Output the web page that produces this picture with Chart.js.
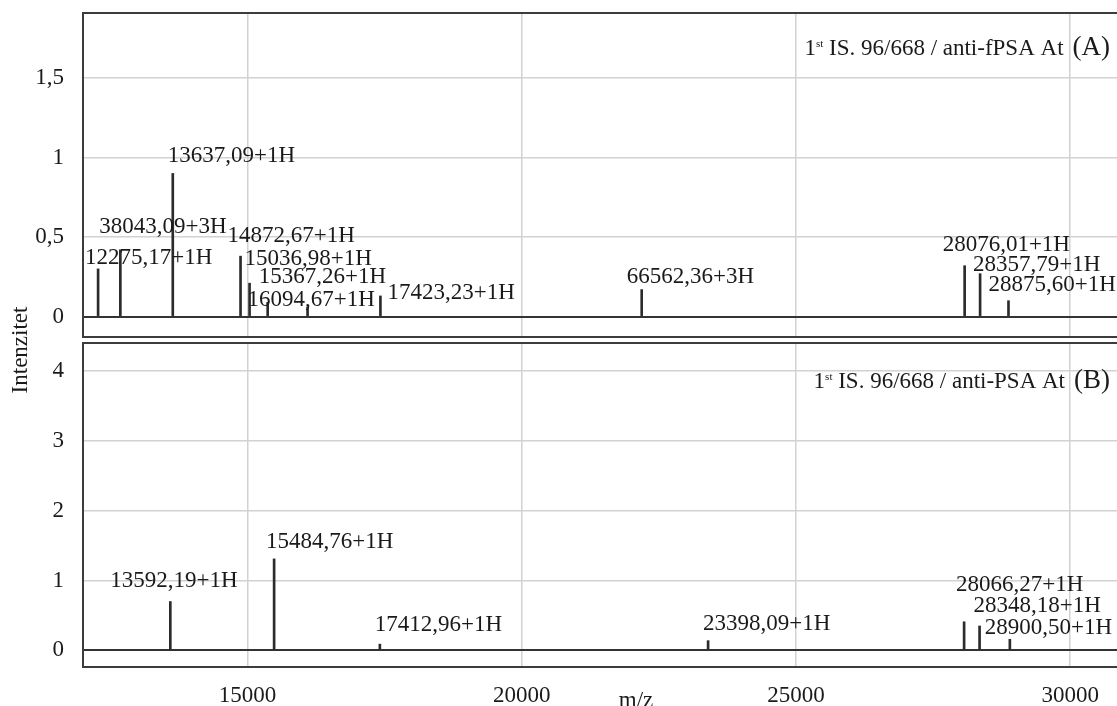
<!DOCTYPE html>
<html>
<head>
<meta charset="utf-8">
<script src="https://cdn.jsdelivr.net/npm/chart.js@4.4.0/dist/chart.umd.min.js"></script>
<style>
  html, body { margin: 0; padding: 0; background: #fff; overflow: hidden; }
  #wrap { position: relative; width: 1117px; height: 706px; overflow: hidden; }
  canvas { position: absolute; left: 0; top: 0; }
</style>
</head>
<body>
<div id="wrap">
  <canvas id="chartB" width="1125" height="706"></canvas>
  <canvas id="chartA" width="1125" height="706"></canvas>
</div>
<script>
// panel A - 1st IS. 96/668 / anti-fPSA At
const mzA = [12275.17, 12681.03, 13637.09, 14872.67, 15036.98, 15367.26, 16094.67, 17423.23, 22187.45, 28076.01, 28357.79, 28875.60];
const intA = [0.30, 0.42, 0.90, 0.38, 0.21, 0.09, 0.06, 0.13, 0.17, 0.32, 0.27, 0.10];
const labelsA = ['12275,17+1H', '38043,09+3H', '13637,09+1H', '14872,67+1H', '15036,98+1H', '15367,26+1H',
  '16094,67+1H', '17423,23+1H', '66562,36+3H', '28076,01+1H', '28357,79+1H', '28875,60+1H'];

// panel B - 1st IS. 96/668 / anti-PSA At
const mzB = [13592.19, 15484.76, 17412.96, 23398.09, 28066.27, 28348.18, 28900.50];
const intB = [0.70, 1.31, 0.09, 0.14, 0.41, 0.35, 0.16];
const labelsB = ['13592,19+1H', '15484,76+1H', '17412,96+1H', '23398,09+1H', '28066,27+1H', '28348,18+1H', '28900,50+1H'];

const xTicks = [15000, 20000, 25000, 30000];
const yTicksA = [0, 0.5, 1, 1.5];
const yTicksB = [0, 1, 2, 3, 4];

// where each peak label sits relative to the top of its bar (px)
const offA = [[-13, -11], [-21, -23], [-5, -17], [-13, -20], [-5, -24], [-9, -25], [-60, -7], [7, -3], [-15, -13], [-22, -21], [-7, -9], [-20, -16]];
const offB = [[-60, -21], [-8, -17], [-5, -19], [-5, -17], [-8, -37], [-6, -20], [-25, -11]];

const FONT = '"Liberation Serif", "Times New Roman", serif';
const INK = '#1a1a1a';

const peakPlugin = {
  id: 'peaks',
  afterDatasetsDraw(chart, args, opts) {
    const ctx = chart.ctx;
    const area = chart.chartArea;
    const meta = chart.getDatasetMeta(0);
    ctx.save();
    ctx.fillStyle = INK;
    ctx.font = '23px ' + FONT;
    ctx.textAlign = 'left';
    ctx.textBaseline = 'middle';
    meta.data.forEach((bar, i) => {
      const o = opts.offsets[i];
      ctx.fillText(opts.labels[i], bar.x + o[0], bar.y + o[1]);
    });

    // panel tag, right aligned
    ctx.textBaseline = 'alphabetic';
    const by = area.top + opts.tagY;
    ctx.font = '27px ' + FONT;
    const wTag = ctx.measureText(opts.tag).width;
    let x = area.right - 15 - wTag;
    ctx.fillText(opts.tag, x, by);
    ctx.font = '23px ' + FONT;
    const wMain = ctx.measureText(opts.title).width;
    x -= 9 + wMain;
    ctx.fillText(opts.title, x, by);
    ctx.font = '11px ' + FONT;
    const wSup = ctx.measureText('st').width;
    x -= wSup;
    ctx.fillText('st', x, by - 8);
    ctx.font = '23px ' + FONT;
    x -= ctx.measureText('1').width;
    ctx.fillText('1', x, by);

    // panel frame
    ctx.strokeStyle = '#3c3c3c';
    ctx.lineWidth = 2;
    ctx.strokeRect(area.left, area.top, area.right - area.left, area.bottom - area.top);

    if (opts.axisTitles) {
      ctx.fillStyle = INK;
      ctx.font = '23px ' + FONT;
      ctx.textAlign = 'center';
      ctx.textBaseline = 'alphabetic';
      ctx.fillText('m/z', (area.left + area.right) / 2 + 32, 707);
      ctx.translate(21, 350);
      ctx.rotate(-Math.PI / 2);
      ctx.textBaseline = 'middle';
      ctx.fillText('Intenzitet', 0, 0);
    }
    ctx.restore();
  }
};

function makeChart(id, mz, ints, labels, offsets, yTicks, yMin, yMax, pad, showX, tag, title, tagY) {
  return new Chart(document.getElementById(id), {
    type: 'bar',
    data: {
      datasets: [{
        data: mz.map((m, i) => ({ x: m, y: ints[i] })),
        backgroundColor: '#2b2b2b',
        barThickness: 2
      }]
    },
    plugins: [peakPlugin],
    options: {
      responsive: false,
      animation: false,
      events: [],
      layout: { padding: pad },
      plugins: {
        legend: { display: false },
        tooltip: { enabled: false },
        peaks: { labels: labels, offsets: offsets, tag: tag, title: title, tagY: tagY, axisTitles: showX }
      },
      scales: {
        x: {
          type: 'linear',
          offset: false,
          min: 12000,
          max: 31000,
          afterBuildTicks: s => { s.ticks = xTicks.map(v => ({ value: v })); },
          afterFit: s => { s.height = showX ? 39 : 0; s.paddingLeft = 0; s.paddingRight = 0; },
          grid: { offset: false, color: '#d2d2d2', lineWidth: 1.5, drawTicks: false },
          border: { display: false },
          ticks: {
            display: showX,
            padding: 15,
            color: INK,
            font: { family: FONT, size: 23 },
            callback: v => String(v)
          }
        },
        y: {
          min: yMin,
          max: yMax,
          afterBuildTicks: s => { s.ticks = yTicks.map(v => ({ value: v })); },
          afterFit: s => { s.width = 83; s.paddingTop = 0; s.paddingBottom = 0; },
          grid: {
            offset: false,
            drawTicks: false,
            color: c => c.tick && c.tick.value === 0 ? '#333333' : '#d2d2d2',
            lineWidth: c => c.tick && c.tick.value === 0 ? 2 : 1.5
          },
          border: { display: false },
          ticks: {
            padding: 19,
            color: INK,
            font: { family: FONT, size: 23 },
            callback: v => String(v).replace('.', ',')
          }
        }
      }
    }
  });
}

makeChart('chartA', mzA, intA, labelsA, offA, yTicksA, -0.128, 1.908,
  { top: 13, bottom: 369, left: 0, right: 0 }, false, '(A)', ' IS. 96/668 / anti-fPSA At', 42);
makeChart('chartB', mzB, intB, labelsB, offB, yTicksB, -0.237, 4.4,
  { top: 343, bottom: 0, left: 0, right: 0 }, true, '(B)', ' IS. 96/668 / anti-PSA At', 45);
</script>
</body>
</html>
